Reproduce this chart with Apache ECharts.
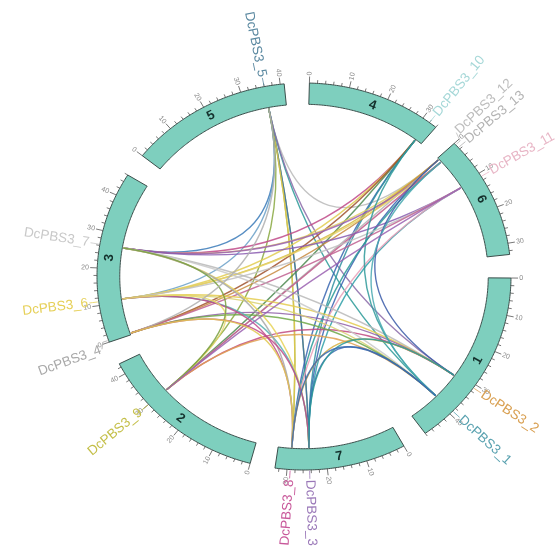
<!DOCTYPE html>
<html>
<head>
<meta charset="utf-8">
<script src="https://cdn.jsdelivr.net/npm/echarts@6/dist/echarts.min.js"></script>
<style>
html,body{margin:0;padding:0;background:#fff}
#chart{width:558px;height:557px}
</style>
</head>
<body>
<div id="chart"></div>
<script>
// Chromosomes in clockwise drawing order and their lengths (Mb)
const chromNames = ['4', '6', '1', '7', '2', '3', '5'];
const chromLengths = [34, 33, 48, 33, 43, 46, 41];

// Labelled genes: chromosome and position (Mb)
const geneNames = ['DcPBS3_1', 'DcPBS3_2', 'DcPBS3_3', 'DcPBS3_4', 'DcPBS3_5', 'DcPBS3_6', 'DcPBS3_7',
                   'DcPBS3_8', 'DcPBS3_9', 'DcPBS3_10', 'DcPBS3_11', 'DcPBS3_12', 'DcPBS3_13'];
const geneChrom = ['1', '1', '7', '3', '5', '3', '3', '7', '2', '4', '6', '6', '6'];
const genePos   = [39, 31, 24.4, 0.5, 36, 11, 26.3, 29.2, 30, 32, 11, 0.5, 1.5];

// Collinear gene pairs
const linkPairs = [
  ['DcPBS3_5', 'DcPBS3_3'], ['DcPBS3_5', 'DcPBS3_8'], ['DcPBS3_5', 'DcPBS3_3'], ['DcPBS3_5', 'DcPBS3_8'],
  ['DcPBS3_5', 'DcPBS3_7'], ['DcPBS3_5', 'DcPBS3_6'], ['DcPBS3_5', 'DcPBS3_12'], ['DcPBS3_5', 'DcPBS3_1'],
  ['DcPBS3_5', 'DcPBS3_2'], ['DcPBS3_5', 'DcPBS3_9'],
  ['DcPBS3_10', 'DcPBS3_7'], ['DcPBS3_10', 'DcPBS3_6'], ['DcPBS3_10', 'DcPBS3_8'], ['DcPBS3_10', 'DcPBS3_9'],
  ['DcPBS3_10', 'DcPBS3_4'], ['DcPBS3_10', 'DcPBS3_3'],
  ['DcPBS3_12', 'DcPBS3_7'], ['DcPBS3_12', 'DcPBS3_6'], ['DcPBS3_12', 'DcPBS3_3'], ['DcPBS3_12', 'DcPBS3_9'],
  ['DcPBS3_12', 'DcPBS3_4'],
  ['DcPBS3_13', 'DcPBS3_7'], ['DcPBS3_13', 'DcPBS3_6'], ['DcPBS3_13', 'DcPBS3_8'], ['DcPBS3_13', 'DcPBS3_9'],
  ['DcPBS3_11', 'DcPBS3_7'], ['DcPBS3_11', 'DcPBS3_6'], ['DcPBS3_11', 'DcPBS3_4'], ['DcPBS3_11', 'DcPBS3_3'],
  ['DcPBS3_11', 'DcPBS3_8'],
  ['DcPBS3_2', 'DcPBS3_7'], ['DcPBS3_2', 'DcPBS3_6'], ['DcPBS3_2', 'DcPBS3_9'], ['DcPBS3_2', 'DcPBS3_4'],
  ['DcPBS3_2', 'DcPBS3_8'],
  ['DcPBS3_1', 'DcPBS3_7'], ['DcPBS3_1', 'DcPBS3_6'], ['DcPBS3_1', 'DcPBS3_9'], ['DcPBS3_1', 'DcPBS3_4'],
  ['DcPBS3_1', 'DcPBS3_3'],
  ['DcPBS3_3', 'DcPBS3_7'], ['DcPBS3_3', 'DcPBS3_6'], ['DcPBS3_8', 'DcPBS3_6'], ['DcPBS3_8', 'DcPBS3_7'],
  ['DcPBS3_9', 'DcPBS3_6'], ['DcPBS3_9', 'DcPBS3_7'],
  ['DcPBS3_10', 'DcPBS3_1'], ['DcPBS3_12', 'DcPBS3_2'], ['DcPBS3_13', 'DcPBS3_1'], ['DcPBS3_11', 'DcPBS3_9'],
  ['DcPBS3_5', 'DcPBS3_4'], ['DcPBS3_3', 'DcPBS3_4'], ['DcPBS3_8', 'DcPBS3_4'], ['DcPBS3_2', 'DcPBS3_3'],
  ['DcPBS3_1', 'DcPBS3_8']
];

// Tick spacing (Mb)
const majorStep = 10;
const minorStep = 2;

// ---- styles ----
const geneColors = ['#5aa2b0', '#d9a052', '#9a78b8', '#a9a9a9', '#5a88a0', '#e6d058', '#c9c9c9',
                    '#c8589a', '#c4bf48', '#a6d8d8', '#e8b6c6', '#bdbdbd', '#b3b3b3'];
const linkColors = [
  '#7aa83c', '#9ab040', '#3d6fb0', '#e0c84a', '#3a7ab8', '#6aa0c8', '#b8b8b8', '#2a9a98', '#8a6aa8', '#88a840',
  '#c04a88', '#e2cc50', '#3a66b0', '#4e8a50', '#a0522d', '#2f8fa0',
  '#e0d060', '#d4b840', '#3860b0', '#b0b0b0', '#c88a40',
  '#9a60b0', '#e6d46a', '#2a9a98', '#c05a8a',
  '#8a5ab0', '#c0c0c0', '#c06090', '#30a0a8', '#e8a0b8',
  '#b8b8b8', '#e4cc50', '#c04a80', '#9060a8', '#d8b040',
  '#c8c8c8', '#d8d070', '#e0a050', '#70a848', '#3a6ab0',
  '#e8d458', '#58b0b0', '#c04a88', '#a8a8a8', '#e8d868', '#7aa040',
  '#2f9a9a', '#3a5aa8', '#48a8b0', '#9a60b0', '#b0b0b0', '#c04a88', '#e0c850', '#2a9a98', '#3a6ab0'
];
const FONT = "'Liberation Sans', Arial, sans-serif";
const SEG_FILL = '#7ecfbe';
const SEG_STROKE = '#3c4f4c';

// ---- layout ----
const W = 558, H = 557;
const CX = 304, CY = 276.5, RX = 207, RY = 193.5;
const GAP = 7, START = 1.5;
const R_OUT = 1, R_IN = 0.89, R_LINK = 0.885, R_LABEL = 1.052;
const labelNudge = { 'DcPBS3_12': -2.4, 'DcPBS3_4': -1.8 };

const TOTAL = chromLengths.reduce((a, b) => a + b, 0);
const DEG_PER_MB = (360 - GAP * chromNames.length) / TOTAL;
const chromStart = [];
(function () {
  let acc = START;
  chromLengths.forEach(L => { chromStart.push(acc); acc += L * DEG_PER_MB + GAP; });
})();
const angleOf = (ci, pos) => chromStart[ci] + pos * DEG_PER_MB;
const geneAngle = g => angleOf(chromNames.indexOf(geneChrom[g]), genePos[g]);

// unit-circle point -> pixel via the cartesian axes
function pt(api, r, deg) {
  const a = deg * Math.PI / 180;
  return api.coord([r * Math.sin(a), r * Math.cos(a)]);
}

// text laid along the radius, readable on both halves
function radialText(api, r, deg, text, style) {
  const p = pt(api, r, deg), q = pt(api, r + 0.1, deg);
  const ang = Math.atan2(q[1] - p[1], q[0] - p[0]);
  const d = ((deg % 360) + 360) % 360;
  const right = d < 180;
  return {
    type: 'text', x: p[0], y: p[1],
    rotation: right ? -ang : -(ang + Math.PI),
    style: Object.assign({ text: text, align: right ? 'left' : 'right', verticalAlign: 'middle', fontFamily: FONT }, style),
    silent: true
  };
}

// tick list
const ticks = [];
chromLengths.forEach((L, ci) => {
  for (let p = 0; p <= L; p += minorStep) ticks.push([ci, p, p % majorStep === 0 ? 1 : 0]);
});

const idx = n => Array.from({ length: n }, (_, i) => [i, 0]);

const chart = echarts.init(document.getElementById('chart'), null, { renderer: 'canvas' });
chart.setOption({
  animation: false,
  backgroundColor: '#ffffff',
  grid: { left: 0, right: 0, top: 0, bottom: 0 },
  xAxis: { type: 'value', min: -CX / RX, max: (W - CX) / RX, show: false },
  yAxis: { type: 'value', min: (CY - H) / RY, max: CY / RY, show: false },
  series: [
    {
      // links
      type: 'custom', coordinateSystem: 'cartesian2d', clip: false, silent: true,
      data: idx(linkPairs.length),
      renderItem(params, api) {
        const i = params.dataIndex;
        const ga = geneNames.indexOf(linkPairs[i][0]), gb = geneNames.indexOf(linkPairs[i][1]);
        const p0 = pt(api, R_LINK, geneAngle(ga)), p2 = pt(api, R_LINK, geneAngle(gb));
        const c = api.coord([0, 0]);
        return {
          type: 'bezierCurve',
          shape: { x1: p0[0], y1: p0[1], x2: p2[0], y2: p2[1], cpx1: c[0], cpy1: c[1] },
          style: { stroke: linkColors[i % linkColors.length], lineWidth: 1.4, fill: null, opacity: 0.85 }
        };
      }
    },
    {
      // chromosome ring
      type: 'custom', coordinateSystem: 'cartesian2d', clip: false, silent: true,
      data: idx(chromNames.length),
      renderItem(params, api) {
        const ci = params.dataIndex;
        const a0 = angleOf(ci, 0), a1 = angleOf(ci, chromLengths[ci]);
        const pts = [];
        for (let d = a0; d < a1; d += 0.5) pts.push(pt(api, R_OUT, d));
        pts.push(pt(api, R_OUT, a1));
        for (let d = a1; d > a0; d -= 0.5) pts.push(pt(api, R_IN, d));
        pts.push(pt(api, R_IN, a0));
        const mid = (a0 + a1) / 2;
        const m = pt(api, 0.945, mid);
        const t0 = pt(api, 0.945, mid - 0.5), t1 = pt(api, 0.945, mid + 0.5);
        let rot = -Math.atan2(t1[1] - t0[1], t1[0] - t0[0]);
        if (mid > 90 && mid < 270) rot += Math.PI;
        return {
          type: 'group',
          children: [
            { type: 'polygon', shape: { points: pts }, style: { fill: SEG_FILL, stroke: SEG_STROKE, lineWidth: 1 } },
            { type: 'text', x: m[0], y: m[1], rotation: rot,
              style: { text: chromNames[ci], fill: '#14302c', font: 'bold 13px ' + FONT, align: 'center', verticalAlign: 'middle' } }
          ]
        };
      }
    },
    {
      // ticks and tick labels
      type: 'custom', coordinateSystem: 'cartesian2d', clip: false, silent: true,
      data: idx(ticks.length),
      renderItem(params, api) {
        const [ci, pos, major] = ticks[params.dataIndex];
        const deg = angleOf(ci, pos);
        const p0 = pt(api, R_OUT, deg), p1 = pt(api, R_OUT + (major ? 0.034 : 0.017), deg);
        const children = [{
          type: 'line', shape: { x1: p0[0], y1: p0[1], x2: p1[0], y2: p1[1] },
          style: { stroke: '#555', lineWidth: 0.8 }
        }];
        if (major) children.push(radialText(api, R_OUT + 0.04, deg, String(pos), { fill: '#8a8a8a', fontSize: 7 }));
        return { type: 'group', children };
      }
    },
    {
      // gene labels
      type: 'custom', coordinateSystem: 'cartesian2d', clip: false, silent: true,
      data: idx(geneNames.length),
      renderItem(params, api) {
        const g = params.dataIndex;
        const deg = geneAngle(g);
        const ldeg = deg + (labelNudge[geneNames[g]] || 0);
        const c0 = pt(api, R_OUT + 0.005, deg), c1 = pt(api, R_OUT + 0.03, deg), c2 = pt(api, R_LABEL - 0.006, ldeg);
        return {
          type: 'group',
          children: [
            { type: 'polyline', shape: { points: [c0, c1, c2] }, style: { stroke: geneColors[g], lineWidth: 0.8, fill: null } },
            radialText(api, R_LABEL, ldeg, geneNames[g], { fill: geneColors[g], fontSize: 13.5 })
          ]
        };
      }
    }
  ]
});
</script>
</body>
</html>
